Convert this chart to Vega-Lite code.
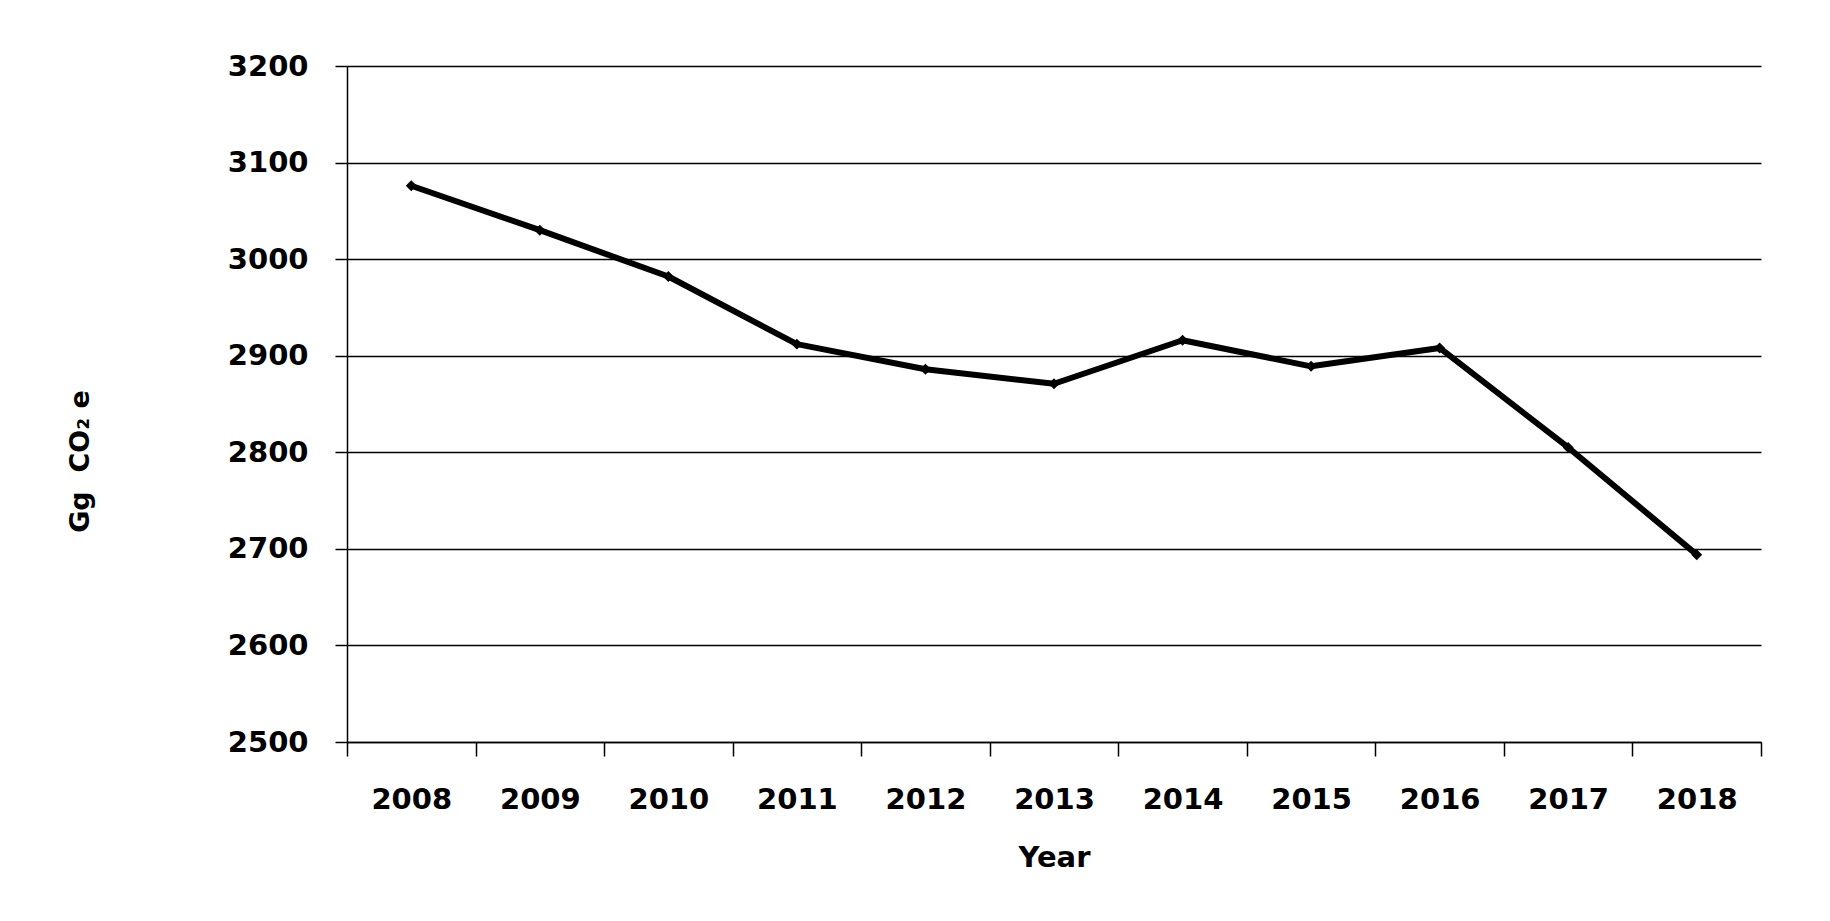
{
  "$schema": "https://vega.github.io/schema/vega-lite/v6.json",
  "width": 1414,
  "height": 676,
  "autosize": {"type": "none"},
  "padding": {"left": 347, "top": 66, "right": 69, "bottom": 179},
  "background": "white",
  "config": {
    "view": {"stroke": null},
    "axis": {"labelFont": "DejaVu Sans", "titleFont": "DejaVu Sans", "labelFontWeight": "bold", "titleFontWeight": "bold", "labelColor": "black", "titleColor": "black"}
  },
  "data": {
    "values": [
      {"year": 2008, "value": 3076},
      {"year": 2009, "value": 3030},
      {"year": 2010, "value": 2982},
      {"year": 2011, "value": 2912},
      {"year": 2012, "value": 2886},
      {"year": 2013, "value": 2871},
      {"year": 2014, "value": 2916},
      {"year": 2015, "value": 2889},
      {"year": 2016, "value": 2908},
      {"year": 2017, "value": 2805},
      {"year": 2018, "value": 2694}
    ]
  },
  "layer": [
    {
      "mark": {"type": "line", "color": "black", "strokeWidth": 6, "strokeJoin": "round"},
      "encoding": {
        "x": {
          "field": "year", "type": "quantitative",
          "scale": {"domain": [2007.5, 2018.5], "nice": false, "zero": false},
          "axis": {
            "orient": "bottom", "title": "Year", "values": [2008, 2009, 2010, 2011, 2012, 2013, 2014, 2015, 2016, 2017, 2018],
            "format": "d", "grid": false, "ticks": false, "tickSize": 0, "labelPadding": 43,
            "labelFontSize": 29, "titleFontSize": 29, "domain": true, "domainColor": "black", "domainWidth": 1.5,
            "titleY": 115, "titleBaseline": "middle", "labelFlush": false, "labelOverlap": false
          }
        },
        "y": {
          "field": "value", "type": "quantitative",
          "scale": {"domain": [2500, 3200], "nice": false, "zero": false},
          "axis": {
            "title": "Gg\u00a0\u00a0CO₂\u00a0e", "values": [2500, 2600, 2700, 2800, 2900, 3000, 3100, 3200], "format": "d",
            "grid": true, "gridColor": "black", "gridWidth": 1.5, "gridOpacity": 1,
            "domain": true, "domainColor": "black", "domainWidth": 1.5,
            "ticks": true, "tickSize": 12, "tickColor": "black", "tickWidth": 1.5,
            "labelPadding": 27, "labelFontSize": 29, "titleFontSize": 27,
            "titleX": -267, "titleY": 395, "titleAngle": -90, "titleAlign": "center", "titleBaseline": "middle",
            "labelFlush": false, "labelOverlap": false
          }
        }
      }
    },
    {
      "mark": {"type": "point", "shape": "diamond", "filled": true, "color": "black", "size": 120, "opacity": 1},
      "encoding": {
        "x": {
          "field": "year", "type": "quantitative",
          "scale": {"domain": [2007.5, 2018.5], "nice": false, "zero": false},
          "axis": {
            "orient": "bottom", "title": null, "labels": false, "grid": false, "domain": false,
            "values": [2007.5, 2008.5, 2009.5, 2010.5, 2011.5, 2012.5, 2013.5, 2014.5, 2015.5, 2016.5, 2017.5, 2018.5],
            "ticks": true, "tickSize": 14, "tickColor": "black", "tickWidth": 1.5
          }
        },
        "y": {"field": "value", "type": "quantitative"}
      }
    }
  ],
  "resolve": {"axis": {"x": "independent"}}
}
